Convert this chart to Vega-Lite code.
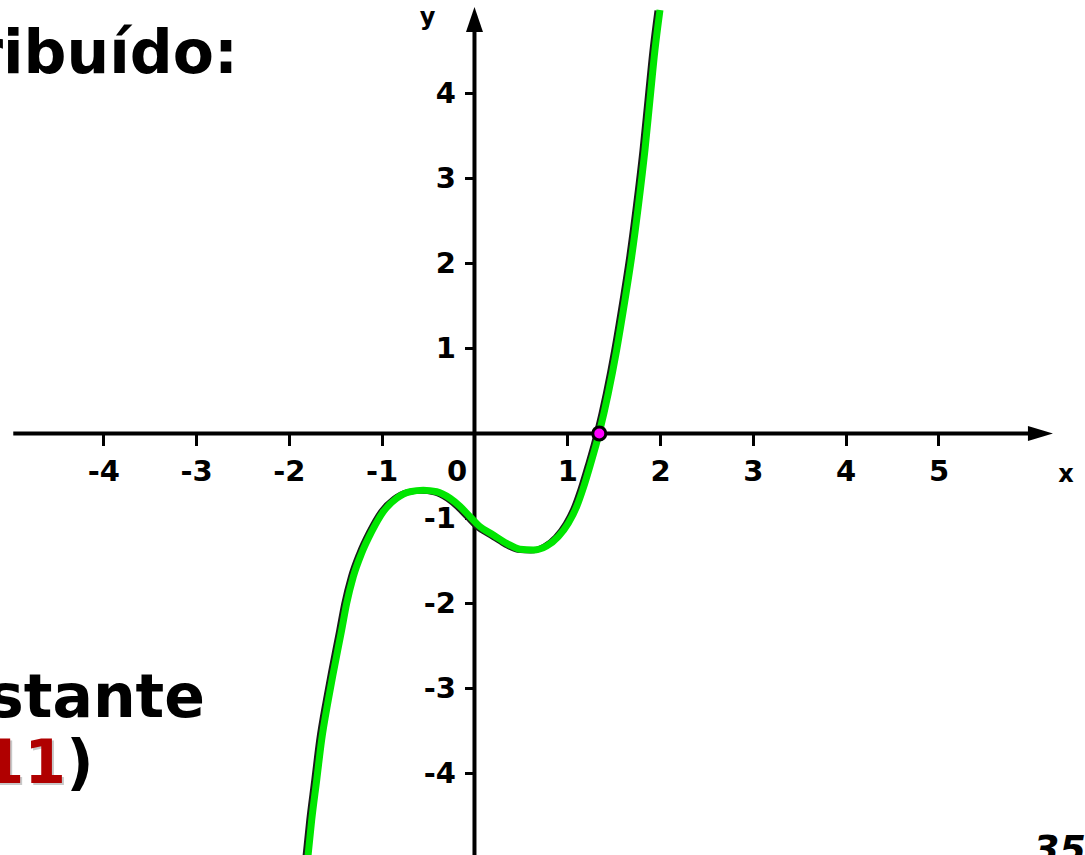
{
  "$schema": "https://vega.github.io/schema/vega-lite/v6.json",
  "width": 1085,
  "height": 855,
  "autosize": {"type": "none"},
  "padding": 0,
  "background": "white",
  "config": {"view": {"stroke": null}},
  "datasets": {
    "curve": [
      {"x": -1.794, "y": -4.971}, {"x": -1.754, "y": -4.547}, {"x": -1.700, "y": -4.076},
      {"x": -1.647, "y": -3.606}, {"x": -1.575, "y": -3.135}, {"x": -1.522, "y": -2.821},
      {"x": -1.431, "y": -2.312}, {"x": -1.377, "y": -1.998},
      {"x": -1.306, "y": -1.685}, {"x": -1.216, "y": -1.409}, {"x": -1.108, "y": -1.155},
      {"x": -0.983, "y": -0.920}, {"x": -0.838, "y": -0.762}, {"x": -0.695, "y": -0.685},
      {"x": -0.552, "y": -0.668}, {"x": -0.407, "y": -0.685}, {"x": -0.264, "y": -0.762},
      {"x": -0.156, "y": -0.858}, {"x": -0.048, "y": -0.979}, {"x": 0.059, "y": -1.096},
      {"x": 0.203, "y": -1.194}, {"x": 0.347, "y": -1.292}, {"x": 0.490, "y": -1.362},
      {"x": 0.634, "y": -1.371}, {"x": 0.778, "y": -1.324}, {"x": 0.903, "y": -1.214},
      {"x": 1.011, "y": -1.056}, {"x": 1.101, "y": -0.861}, {"x": 1.172, "y": -0.644},
      {"x": 1.245, "y": -0.382}, {"x": 1.345, "y": 0.009}, {"x": 1.442, "y": 0.473},
      {"x": 1.532, "y": 0.982}, {"x": 1.622, "y": 1.571}, {"x": 1.694, "y": 2.080},
      {"x": 1.765, "y": 2.668}, {"x": 1.837, "y": 3.335}, {"x": 1.891, "y": 3.924},
      {"x": 1.945, "y": 4.512}, {"x": 1.999, "y": 4.982}
    ]
  },
  "encoding": {
    "x": {
      "field": "x", "type": "quantitative",
      "scale": {"domain": [-5.113, 6.579], "nice": false, "zero": false},
      "axis": {
        "orient": "bottom", "offset": -421.5,
        "values": [-4, -3, -2, -1, 0, 1, 2, 3, 4, 5],
        "domain": false, "grid": false, "title": null,
        "tickSize": 12, "tickWidth": 3, "tickColor": "#000000",
        "labelColor": "#000000", "labelFont": "DejaVu Sans", "labelFontWeight": "bold",
        "labelFontSize": 29, "labelPadding": 12, "labelFlush": false, "labelOverlap": false,
        "labelBound": false,
        "labelExpr": "datum.value + ''",
        "labelOffset": {"condition": {"test": "datum.value == 0", "value": -18}, "value": 0}
      }
    },
    "y": {
      "field": "y", "type": "quantitative",
      "scale": {"domain": [-4.959, 5.1], "nice": false, "zero": false},
      "axis": {
        "orient": "left", "offset": -474.5,
        "values": [-4, -3, -2, -1, 1, 2, 3, 4],
        "domain": false, "grid": false, "title": null,
        "tickSize": 10, "tickWidth": 3, "tickColor": "#000000",
        "labelColor": "#000000", "labelFont": "DejaVu Sans", "labelFontWeight": "bold",
        "labelFontSize": 29, "labelPadding": 9, "labelFlush": false, "labelOverlap": false,
        "labelBound": false,
        "labelExpr": "datum.value + ''"
      }
    }
  },
  "layer": [
    {
      "data": {"values": [
        {"x": -4.97, "x2": 6.0, "y": 0, "y2": 0},
        {"x": 0, "x2": 0, "y": -5.0, "y2": 4.75}
      ]},
      "mark": {"type": "rule", "color": "#000000", "strokeWidth": 4},
      "encoding": {
        "x2": {"field": "x2"},
        "y2": {"field": "y2"}
      }
    },
    {
      "data": {"values": [
        {"x": 6.099, "y": 0, "dir": "right"},
        {"x": 0, "y": 4.871, "dir": "up"}
      ]},
      "mark": {"type": "point", "filled": true, "color": "#000000", "opacity": 1, "size": 625},
      "encoding": {
        "shape": {
          "field": "dir", "type": "nominal", "legend": null,
          "scale": {"domain": ["right", "up"], "range": ["M-1,-0.6L1,0L-1,0.6Z", "M0,-1L0.68,1L-0.68,1Z"]}
        }
      }
    },
    {
      "data": {"name": "curve"},
      "mark": {"type": "line", "color": "#1a1a1a", "strokeWidth": 6, "interpolate": "monotone", "xOffset": -2.5, "yOffset": 0.5, "strokeCap": "butt"},
      "encoding": {}
    },
    {
      "data": {"name": "curve"},
      "mark": {"type": "line", "color": "#00e600", "strokeWidth": 7, "interpolate": "monotone", "strokeCap": "butt"},
      "encoding": {}
    },
    {
      "data": {"values": [{"x": 1.345, "y": 0.0}]},
      "mark": {"type": "point", "filled": true, "shape": "circle", "fill": "#ff00ff", "stroke": "#000000", "strokeWidth": 3, "size": 170, "opacity": 1},
      "encoding": {}
    },
    {
      "data": {"values": [
        {"x": 6.374, "y": -0.571, "label": "x"},
        {"x": -0.506, "y": 4.806, "label": "y"}
      ]},
      "mark": {"type": "text", "align": "center", "baseline": "alphabetic", "font": "DejaVu Sans", "fontWeight": "bold", "fontSize": 24, "color": "#000000"},
      "encoding": {"text": {"field": "label"}}
    },
    {
      "data": {"values": [
        {"x": -2.548, "y": 4.241, "label": "ribuído:"},
        {"x": -2.904, "y": -3.332, "label": "nstante"}
      ]},
      "mark": {"type": "text", "align": "right", "baseline": "alphabetic", "font": "DejaVu Sans", "fontWeight": "bold", "fontSize": 60, "color": "#000000"},
      "encoding": {"text": {"field": "label"}}
    },
    {
      "data": {"values": [{"x": -4.402, "y": -4.112, "label": "11"}]},
      "mark": {"type": "text", "align": "right", "baseline": "alphabetic", "font": "DejaVu Sans", "fontWeight": "bold", "fontSize": 60, "color": "#c8c8c8", "dx": 2, "dy": 2},
      "encoding": {"text": {"field": "label"}}
    },
    {
      "data": {"values": [{"x": -4.402, "y": -4.112, "label": "11"}]},
      "mark": {"type": "text", "align": "right", "baseline": "alphabetic", "font": "DejaVu Sans", "fontWeight": "bold", "fontSize": 60, "color": "#b00000"},
      "encoding": {"text": {"field": "label"}}
    },
    {
      "data": {"values": [{"x": -4.40, "y": -4.112, "label": ")"}]},
      "mark": {"type": "text", "align": "left", "baseline": "alphabetic", "font": "DejaVu Sans", "fontWeight": "bold", "fontSize": 60, "color": "#000000"},
      "encoding": {"text": {"field": "label"}}
    },
    {
      "data": {"values": [{"x": 6.018, "y": -5.04, "label": "35"}]},
      "mark": {"type": "text", "align": "left", "baseline": "alphabetic", "font": "DejaVu Sans", "fontWeight": "bold", "fontStyle": "italic", "fontSize": 38, "color": "#000000"},
      "encoding": {"text": {"field": "label"}}
    }
  ]
}
